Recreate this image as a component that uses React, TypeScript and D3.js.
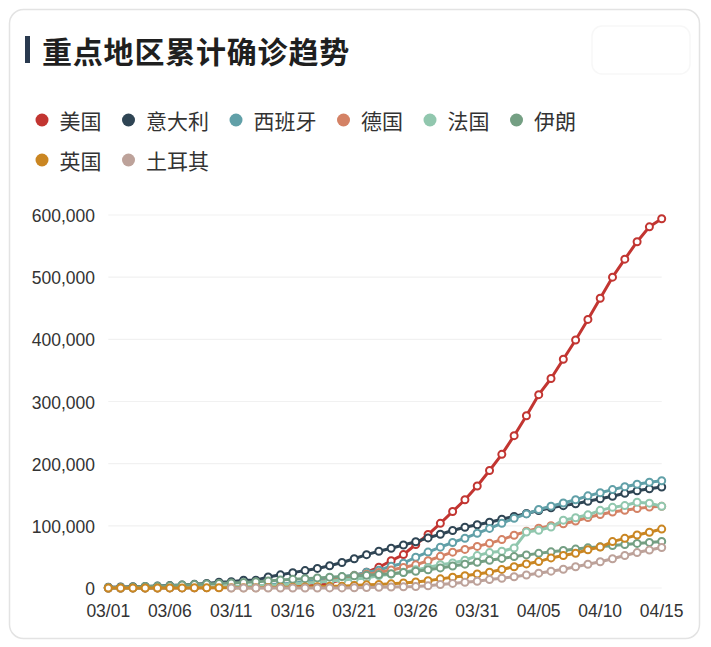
import * as d3 from 'd3';
import { useRef, useEffect } from 'react';

// categories: 03/01 .. 04/15
const dates = [
  '03/01', '03/02', '03/03', '03/04', '03/05', '03/06', '03/07', '03/08', '03/09', '03/10',
  '03/11', '03/12', '03/13', '03/14', '03/15', '03/16', '03/17', '03/18', '03/19', '03/20',
  '03/21', '03/22', '03/23', '03/24', '03/25', '03/26', '03/27', '03/28', '03/29', '03/30',
  '03/31', '04/01', '04/02', '04/03', '04/04', '04/05', '04/06', '04/07', '04/08', '04/09',
  '04/10', '04/11', '04/12', '04/13', '04/14', '04/15',
];

const yTicks = [0, 100000, 200000, 300000, 400000, 500000, 600000];

// cumulative confirmed cases
const usa = [
  70, 80, 100, 120, 160, 220, 320, 440, 540, 700,
  990, 1300, 1630, 2180, 2770, 3610, 4600, 6340, 7790, 13700,
  19100, 25500, 33300, 43800, 53700, 70000, 86000, 104000, 123000, 142000,
  164000, 189000, 215000, 245000, 277000, 311000, 337000, 368000, 399000, 432000,
  466000, 500000, 529000, 557000, 581000, 594000,
];
const italy = [
  1130, 1690, 2040, 2500, 3090, 3860, 4640, 5880, 7380, 9170,
  10100, 12500, 12500, 17700, 21200, 24700, 28000, 31500, 35700, 41000,
  47000, 53600, 59100, 63900, 69200, 74400, 80600, 86500, 92500, 97700,
  101700, 105800, 110600, 115200, 119800, 124600, 128900, 132500, 135600, 139400,
  143600, 147600, 152300, 156400, 159500, 162500,
];
const spain = [
  50, 80, 120, 170, 220, 260, 400, 500, 670, 1070,
  1700, 2280, 2280, 5230, 6390, 7800, 9940, 11700, 13900, 18000,
  20400, 25400, 28600, 35100, 39900, 49500, 57800, 65700, 73200, 80100,
  88000, 95900, 104100, 112100, 119200, 126200, 131600, 136700, 141900, 148200,
  153200, 158300, 163000, 166800, 170100, 172500,
];
const germany = [
  80, 130, 160, 200, 260, 480, 670, 800, 1040, 1180,
  1460, 1910, 2080, 3680, 4590, 5800, 7270, 9260, 12300, 15300,
  19800, 22200, 24900, 29100, 33000, 37300, 43900, 50900, 57700, 62100,
  66900, 71800, 77900, 84800, 91200, 96100, 100100, 103400, 107700, 113300,
  118200, 122200, 124900, 127900, 130100, 131400,
];
const france = [
  130, 190, 200, 290, 380, 660, 960, 1130, 1220, 1790,
  2290, 2290, 3680, 4490, 4520, 6670, 7700, 9110, 10900, 12700,
  14400, 16200, 19900, 22300, 25200, 29200, 33000, 37600, 40200, 44600,
  52100, 57000, 59100, 64300, 90000, 92800, 98000, 109100, 113000, 117700,
  124900, 129700, 132600, 137900, 136500, 131400,
];
const iran = [
  590, 980, 1500, 2340, 2920, 3510, 4750, 5820, 6570, 7160,
  8040, 9000, 10100, 11400, 12700, 13900, 15000, 16200, 17400, 18400,
  19600, 20600, 21600, 23000, 24800, 27000, 29400, 32300, 35400, 38300,
  41500, 44600, 47600, 50500, 53200, 55700, 58200, 60500, 62600, 64600,
  66200, 68200, 70000, 71700, 73300, 74900,
];
const uk = [
  20, 40, 40, 50, 90, 120, 160, 210, 270, 320,
  380, 460, 460, 800, 1140, 1150, 1550, 1960, 2640, 2720,
  4010, 5070, 5750, 6730, 8160, 9640, 11800, 14700, 17300, 19800,
  22500, 25500, 29900, 34200, 38700, 42500, 48400, 52300, 55900, 61500,
  65900, 74600, 79900, 85200, 89600, 94800,
];
const turkey = [
  null, null, null, null, null, null, null, null, null, null,
  0, 1, 1, 5, 5, 6, 18, 47, 98, 192,
  360, 670, 1240, 1530, 1870, 2430, 3630, 5700, 7400, 9220,
  10800, 13500, 15700, 18100, 20900, 23900, 27100, 30200, 34100, 38200,
  42300, 47000, 52200, 57000, 61000, 65100,
];

const seriesNames = ['美国', '意大利', '西班牙', '德国', '法国', '伊朗', '英国', '土耳其'];
const seriesValues = [usa, italy, spain, germany, france, iran, uk, turkey];
const palette = ['#c23531', '#2f4554', '#61a0a8', '#d48265', '#91c7ae', '#749f83', '#ca8622', '#bda29a'];

const W = 711;
const H = 647;
const plot = { left: 108.3, right: 661.7, top: 215, bottom: 588 };
const numFont = '"Liberation Sans", Arial, Helvetica, sans-serif';
const cjkFont = '"Noto Sans CJK SC", "Noto Sans", sans-serif';

export default function App() {
  const ref = useRef<SVGSVGElement>(null);

  useEffect(() => {
    const svg = d3.select(ref.current);
    svg.selectAll('*').remove();

    // card
    svg.append('rect')
      .attr('width', W).attr('height', H).attr('fill', '#ffffff');
    svg.append('rect')
      .attr('x', 9.5).attr('y', 9.5)
      .attr('width', 690).attr('height', 629)
      .attr('rx', 14)
      .attr('fill', '#ffffff')
      .attr('stroke', '#e3e3e3')
      .attr('stroke-width', 1.5);

    // faint button in the top right corner
    svg.append('rect')
      .attr('x', 592).attr('y', 26)
      .attr('width', 98).attr('height', 48)
      .attr('rx', 10)
      .attr('fill', '#ffffff')
      .attr('stroke', '#f7f7f7')
      .attr('stroke-width', 1.5);

    // title
    svg.append('rect')
      .attr('x', 25).attr('y', 36)
      .attr('width', 5).attr('height', 27)
      .attr('fill', '#2a3a4f');
    svg.append('text')
      .attr('x', 42).attr('y', 50)
      .attr('dominant-baseline', 'central')
      .attr('font-family', cjkFont)
      .attr('font-size', 30)
      .attr('font-weight', 700)
      .attr('letter-spacing', 0.8)
      .attr('fill', '#1f1f1f')
      .text('重点地区累计确诊趋势');

    // legend: icon box 25, text offset 30, gap 14.5, wraps at the card edge
    const legendFont = 21;
    let lx = 29.5;
    let ly = 120;
    const legend = svg.append('g');
    seriesNames.forEach((name, i) => {
      const w = 30 + name.length * legendFont;
      if (lx + w > 640) {
        lx = 29.5;
        ly += 40;
      }
      legend.append('circle')
        .attr('cx', lx + 12.5).attr('cy', ly)
        .attr('r', 6.5)
        .attr('fill', palette[i]);
      legend.append('text')
        .attr('x', lx + 30).attr('y', ly)
        .attr('dominant-baseline', 'central')
        .attr('font-family', cjkFont)
        .attr('font-size', legendFont)
        .attr('fill', '#333')
        .text(name);
      lx += w + 14.5;
    });

    // scales
    const x = d3.scalePoint<string>()
      .domain(dates)
      .range([plot.left, plot.right]);
    const y = d3.scaleLinear()
      .domain([0, 600000])
      .range([plot.bottom, plot.top]);

    // grid + y labels
    const grid = svg.append('g');
    yTicks.forEach(t => {
      grid.append('line')
        .attr('x1', plot.left).attr('x2', plot.right)
        .attr('y1', y(t)).attr('y2', y(t))
        .attr('stroke', '#f1f1f1')
        .attr('stroke-width', 1.2);
      grid.append('text')
        .attr('x', 95).attr('y', y(t) + 1)
        .attr('text-anchor', 'end')
        .attr('dominant-baseline', 'central')
        .attr('font-family', numFont)
        .attr('font-size', 17.5)
        .attr('fill', '#333')
        .text(d3.format(',')(t));
    });

    // x labels every 5 days
    dates.forEach((d, i) => {
      if (i % 5 !== 0) return;
      svg.append('text')
        .attr('x', x(d)!).attr('y', 611)
        .attr('text-anchor', 'middle')
        .attr('dominant-baseline', 'central')
        .attr('font-family', numFont)
        .attr('font-size', 17.5)
        .attr('fill', '#333')
        .text(d);
    });

    // series
    const line = d3.line<number | null>()
      .defined(v => v != null)
      .x((_, i) => x(dates[i])!)
      .y(v => y(v as number));

    seriesValues.forEach((vals, s) => {
      const g = svg.append('g');
      g.append('path')
        .datum(vals)
        .attr('d', line)
        .attr('fill', 'none')
        .attr('stroke', palette[s])
        .attr('stroke-width', 3)
        .attr('stroke-linejoin', 'round');
      g.selectAll('circle')
        .data(vals.map((v, i) => ({ v, i })).filter(p => p.v != null))
        .enter().append('circle')
        .attr('cx', p => x(dates[p.i])!)
        .attr('cy', p => y(p.v as number))
        .attr('r', 3.5)
        .attr('fill', '#fff')
        .attr('stroke', palette[s])
        .attr('stroke-width', 2);
    });
  }, []);

  return (
    <svg
      ref={ref}
      width={W}
      height={H}
      style={{ position: 'absolute', left: 0, top: 0, display: 'block' }}
    />
  );
}
